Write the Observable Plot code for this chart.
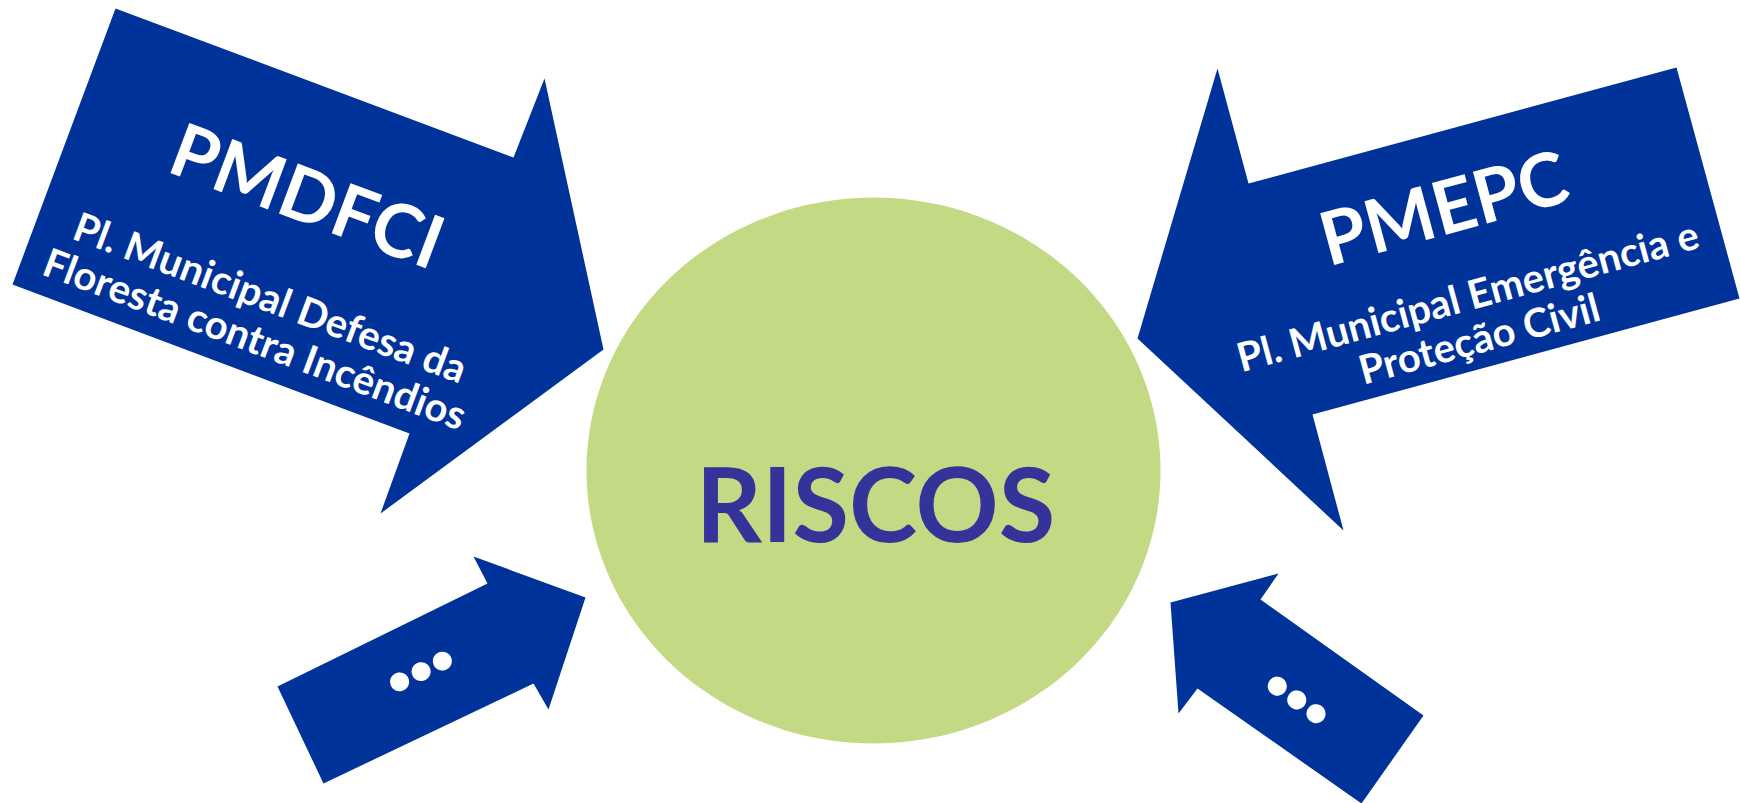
<!DOCTYPE html>
<html>
<head>
<meta charset="utf-8">
<script src="https://cdn.jsdelivr.net/npm/d3@7"></script>
<script src="https://cdn.jsdelivr.net/npm/@observablehq/plot@0.6"></script>
<style>
  html, body { margin: 0; padding: 0; background: #ffffff; }
  #chart svg { display: block; }
  #chart .dots text { letter-spacing: -6px; }
</style>
</head>
<body>
<div id="chart"></div>
<script>
// Shape outlines (pixel units of the 1740x803 canvas)
const pmdfciArrow = [[115, 8], [513, 157], [544, 78], [603, 349], [380, 513], [409, 433], [12, 284]];
const pmepcArrow  = [[1676, 67], [1248, 183], [1217, 68], [1137, 338], [1343, 530], [1312, 414], [1739, 298]];
const leftArrow   = [[277, 686], [487, 583], [473, 556], [585, 597], [548, 709], [533, 683], [323, 783]];
const rightArrow  = [[1423, 715], [1260, 599], [1278, 573], [1170, 602], [1178, 713], [1197, 688], [1361, 803]];

// Central ellipse: centre and radii
const ellipseCenter = [873, 470];
const ellipseRadii = [287, 273];

// Labels
const labelText = [
  "PMDFCI",
  "Pl. Municipal Defesa da\nFloresta contra Incêndios",
  "PMEPC",
  "Pl. Municipal Emergência e\nProteção Civil",
  "RISCOS",
  "...",
  "..."
];
const labelX = [306, 262, 1444, 1473, 875, 404, 1312];
const labelY = [198, 318, 210, 317, 509, 644, 672];
const labelAngle = [20.5, 20.5, -15.2, -15.2, 0, -26, 35.5];
const labelKind = ["title", "sub", "title", "sub", "center", "dots", "dots"];

// Build tables for the library
const arrows = [
  ["pmdfci", pmdfciArrow], ["pmepc", pmepcArrow], ["left", leftArrow], ["right", rightArrow]
].flatMap(([name, pts]) => [...pts, pts[0]].map(([x, y]) => ({name, x, y})));

const ellipse = d3.range(0, 361, 2).map(a => {
  const t = a * Math.PI / 180;
  return {x: ellipseCenter[0] + ellipseRadii[0] * Math.cos(t), y: ellipseCenter[1] + ellipseRadii[1] * Math.sin(t)};
});

const labels = labelText.map((text, i) => ({text, x: labelX[i], y: labelY[i], angle: labelAngle[i], kind: labelKind[i]}));
const pick = k => labels.filter(d => d.kind === k);

const BLUE = "#003399";
const GREEN = "#c3d983";
const FONT = "Lato, 'Open Sans', sans-serif";

const chart = Plot.plot({
  width: 1740,
  height: 803,
  margin: 0,
  x: {domain: [0, 1740], range: [0, 1740], axis: null},
  y: {domain: [0, 803], range: [0, 803], axis: null},
  style: {background: "#ffffff", fontFamily: FONT, overflow: "visible"},
  marks: [
    Plot.line(ellipse, {x: "x", y: "y", fill: GREEN, stroke: "none"}),
    Plot.line(arrows, {x: "x", y: "y", z: "name", fill: BLUE, stroke: "none"}),
    Plot.text(pick("title"), {x: "x", y: "y", text: "text", rotate: "angle", fill: "white",
      fontSize: 74, fontWeight: "bold", fontFamily: FONT, textAnchor: "middle", lineAnchor: "middle"}),
    Plot.text(pick("sub"), {x: "x", y: "y", text: "text", rotate: "angle", fill: "white",
      fontSize: 40, fontWeight: "bold", fontFamily: FONT, textAnchor: "middle", lineAnchor: "middle", lineHeight: 1.1}),
    Plot.text(pick("center"), {x: "x", y: "y", text: "text", fill: "#333399",
      fontSize: 103, fontWeight: "bold", fontFamily: FONT, textAnchor: "middle", lineAnchor: "middle"}),
    Plot.text(pick("dots"), {x: "x", y: "y", text: "text", rotate: "angle", fill: "white", className: "dots",
      fontSize: 125, fontWeight: "bold", fontFamily: FONT, textAnchor: "middle", lineAnchor: "middle"})
  ]
});

document.getElementById("chart").appendChild(chart);
</script>
</body>
</html>
